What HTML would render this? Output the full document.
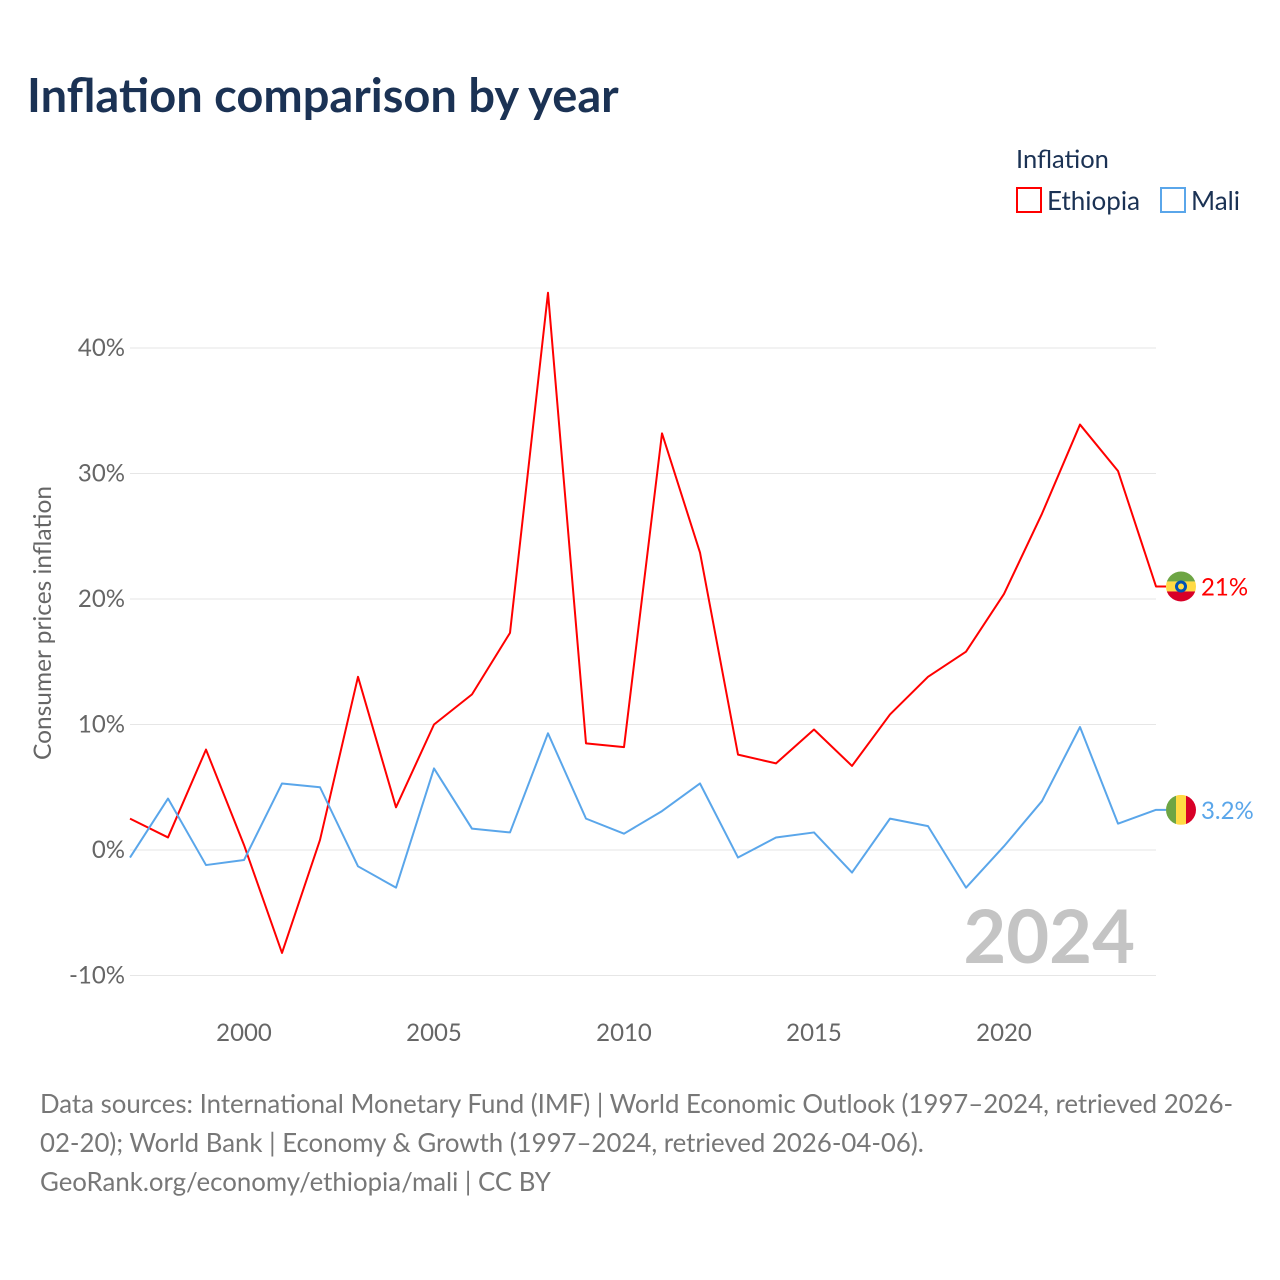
<!DOCTYPE html>
<html><head><meta charset="utf-8"><style>
body{margin:0;background:#fff;font-family:"Liberation Sans",sans-serif;}
#wrap{position:relative;width:1280px;height:1280px;overflow:hidden;}
svg text{font-family:"Lato","Liberation Sans",sans-serif;}
</style></head><body>
<div id="wrap">
<svg id="chart" width="1280" height="1280">
<text x="27" y="112" font-size="47" font-weight="bold" fill="#1b3254">Inflation comparison by year</text>
<text x="1016" y="168" font-size="25.5" fill="#1b3254">Inflation</text>
<g><rect x="1017" y="188" width="24" height="24" fill="none" stroke="#f00" stroke-width="2"/><text x="1047" y="210" font-size="26" fill="#1b3254">Ethiopia</text></g>
<g><rect x="1161" y="188" width="24" height="24" fill="none" stroke="#5aa6ea" stroke-width="2"/><text x="1191" y="210" font-size="26" fill="#1b3254">Mali</text></g>
<text transform="translate(51,623) rotate(-90)" text-anchor="middle" font-size="24.5" fill="#666">Consumer prices inflation</text>
<text x="1135" y="963" text-anchor="end" font-size="74" font-weight="bold" fill="#c4c4c4">2024</text>
<g id="grid"></g><g id="series"></g>
<text x="40" y="1113" font-size="25.8" fill="#777">Data sources: International Monetary Fund (IMF) | World Economic Outlook (1997–2024, retrieved 2026-</text>
<text x="40" y="1152" font-size="25.8" fill="#777">02-20); World Bank | Economy &amp; Growth (1997–2024, retrieved 2026-04-06).</text>
<text x="40" y="1191" font-size="25.8" fill="#777">GeoRank.org/economy/ethiopia/mali | CC BY</text>
</svg></div>
<script>
const years=[1997,1998,1999,2000,2001,2002,2003,2004,2005,2006,2007,2008,2009,2010,2011,2012,2013,2014,2015,2016,2017,2018,2019,2020,2021,2022,2023,2024];
const ethiopia=[2.5,1.0,8.0,0.4,-8.2,0.8,13.8,3.4,10.0,12.4,17.3,44.4,8.5,8.2,33.2,23.7,7.6,6.9,9.6,6.7,10.8,13.8,15.8,20.4,26.8,33.9,30.2,21.0];
const mali=[-0.6,4.1,-1.2,-0.8,5.3,5.0,-1.3,-3.0,6.5,1.7,1.4,9.3,2.5,1.3,3.1,5.3,-0.6,1.0,1.4,-1.8,2.5,1.9,-3.0,0.3,3.9,9.8,2.1,3.2];
const yTicks=[-10,0,10,20,30,40];
const xTicks=[2000,2005,2010,2015,2020];
const NS="http://www.w3.org/2000/svg";
const x=v=>130+(v-1997)*38;
const y=v=>850-v*12.55;
function mk(t,a,p){const e=document.createElementNS(NS,t);for(const k in a)e.setAttribute(k,a[k]);p.appendChild(e);return e;}
const grid=document.getElementById('grid'),ser=document.getElementById('series');
yTicks.forEach(t=>{
 const l=mk('line',{x1:130,x2:1156,y1:y(t),y2:y(t),stroke:'#e6e6e6','stroke-width':1},grid);
 
 
 const tx=mk('text',{x:125,y:y(t)+8,'text-anchor':'end','font-size':24,fill:'#666'},grid);
 tx.textContent=t+'%';
 
 
});
xTicks.forEach(t=>{
 const tx=mk('text',{x:x(t),y:1041,'text-anchor':'middle','font-size':24,fill:'#666'},grid);
 tx.textContent=t;
 
 
});
function line(vals,col,name){
 let d=vals.map((v,i)=>(i?'L':'M')+x(years[i])+' '+y(v)).join(' ');
 d+=' H'+(x(years[years.length-1])+10);
 const p=mk('path',{d:d,fill:'none',stroke:col,'stroke-width':2,'stroke-linejoin':'round'},ser);
 
 
}
line(ethiopia,'#f00','line-ethiopia');
line(mali,'#5aa6ea','line-mali');
const ey=y(ethiopia[ethiopia.length-1]), my=y(mali[mali.length-1]), fx=1181;
const defs=mk('defs',{},ser);
const c1=mk('clipPath',{id:'c1'},defs);mk('circle',{cx:fx,cy:ey,r:15},c1);
const c2=mk('clipPath',{id:'c2'},defs);mk('circle',{cx:fx,cy:my,r:15},c2);
const f1=mk('g',{'clip-path':'url(#c1)'},ser);


mk('rect',{x:fx-15,y:ey-15,width:30,height:10,fill:'#6da544'},f1);
mk('rect',{x:fx-15,y:ey-5,width:30,height:10,fill:'#ffda44'},f1);
mk('rect',{x:fx-15,y:ey+5,width:30,height:10,fill:'#d80027'},f1);
mk('circle',{cx:fx,cy:ey,r:6,fill:'#0052b4'},f1);
mk('circle',{cx:fx,cy:ey,r:3,fill:'#ffda44'},f1);
const f2=mk('g',{'clip-path':'url(#c2)'},ser);


mk('rect',{x:fx-15,y:my-15,width:10,height:30,fill:'#6da544'},f2);
mk('rect',{x:fx-5,y:my-15,width:10,height:30,fill:'#ffda44'},f2);
mk('rect',{x:fx+5,y:my-15,width:10,height:30,fill:'#d80027'},f2);
const l1=mk('text',{x:1201,y:ey+9,'font-size':24,fill:'#f00'},ser);
l1.textContent=Math.round(ethiopia[ethiopia.length-1])+'%';


const l2=mk('text',{x:1201,y:my+9,'font-size':24,fill:'#5aa6ea'},ser);
l2.textContent=mali[mali.length-1].toFixed(1)+'%';


</script>
</body></html>
